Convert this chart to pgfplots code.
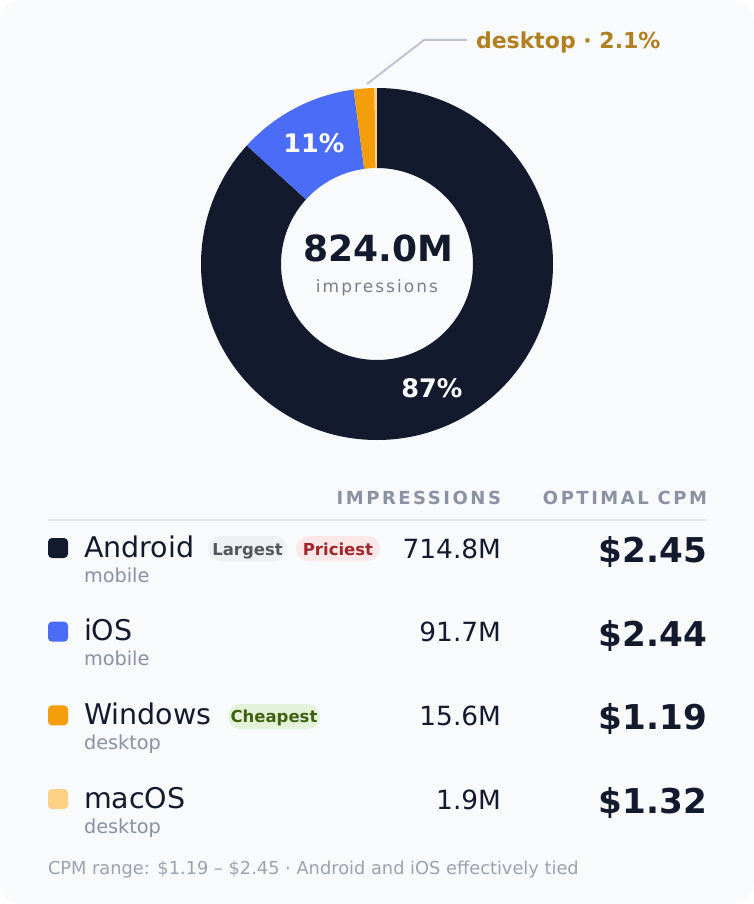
\documentclass[border=0pt]{standalone}
\usepackage{pgfplots}
\pgfplotsset{compat=1.18}
\usepackage{pgfplotstable}
\usepackage{fontspec}
\setmainfont{DejaVu Sans}
\newfontfamily\spaced[LetterSpace=14]{DejaVu Sans}
\newfontfamily\spacedlight[LetterSpace=12]{DejaVu Sans}

\definecolor{bg}{HTML}{F8FAFC}
\definecolor{ink}{HTML}{141A2E}
\definecolor{cAndroid}{HTML}{141A2E}
\definecolor{cIOS}{HTML}{4B6CF7}
\definecolor{cWindows}{HTML}{F59E0B}
\definecolor{cMacOS}{HTML}{FDD286}
\definecolor{muted}{HTML}{8A91A4}
\definecolor{hdr}{HTML}{8B92A3}
\definecolor{sub}{HTML}{7A7F8E}
\definecolor{foot}{HTML}{9CA2AF}
\definecolor{gold}{HTML}{B07F20}
\definecolor{leader}{HTML}{C0C3D1}
\definecolor{rule}{HTML}{E3E6EC}
\definecolor{pillgrey}{HTML}{EEF0F4}
\definecolor{pillgreytxt}{HTML}{55565C}
\definecolor{pillred}{HTML}{FCE8E8}
\definecolor{pillredtxt}{HTML}{A3262A}
\definecolor{pillgreen}{HTML}{E5F2DA}
\definecolor{pillgreentxt}{HTML}{3F6212}

\newcommand\fs[1]{\fontsize{#1}{#1}\selectfont}

% impressions (M) per platform
\pgfplotstableread{
platform impressions color
Android  714.8 cAndroid
iOS      91.7  cIOS
Windows  15.6  cWindows
macOS    1.9   cMacOS
}\shares

\begin{document}
\begin{tikzpicture}[x=1pt, y=1pt, t/.style={inner sep=0pt, outer sep=0pt}]

% card
\fill[white] (0,0) rectangle (754,-904);
\fill[bg, rounded corners=22pt] (0,0) rectangle (754,-904);

% total
\def\total{0}
\pgfplotsforeachungrouped \i in {0,...,3}{%
  \pgfplotstablegetelem{\i}{impressions}\of{\shares}%
  \pgfmathsetmacro{\total}{\total+\pgfplotsretval}%
}

\begin{axis}[
  at={(377pt,-264pt)}, anchor=center,
  width=352pt, height=352pt, scale only axis,
  xmin=-176, xmax=176, ymin=-176, ymax=176,
  hide axis, clip=false,
]
\def\cur{90}
\pgfplotsforeachungrouped \i in {0,...,3}{%
  \pgfplotstablegetelem{\i}{impressions}\of{\shares}%
  \let\val\pgfplotsretval
  \pgfmathsetmacro{\shr}{\val/\total}%
  \pgfmathsetmacro{\segspan}{360*\shr}%
  \pgfmathsetmacro{\nxt}{\cur-\segspan}%
  \pgfmathsetmacro{\midang}{\cur-\segspan/2}%
  \pgfmathtruncatemacro{\pct}{round(100*\shr)}%
  \pgfplotstablegetelem{\i}{color}\of{\shares}%
  \edef\col{\pgfplotsretval}%
  \edef\temp{\noexpand\fill[\col]
    ([shift={(\cur:176pt)}]axis cs:0,0) arc[start angle=\cur, end angle=\nxt, radius=176pt]
    -- ([shift={(\nxt:96pt)}]axis cs:0,0) arc[start angle=\nxt, end angle=\cur, radius=96pt] -- cycle;}%
  \temp
  \ifnum\pct>5
    \edef\temp{\noexpand\node[text=white, font=\noexpand\bfseries\noexpand\fs{25.5}, inner sep=0pt]
      at ([shift={(\midang:136pt)}]axis cs:0,0) {\pct\noexpand\%};}%
    \temp
  \fi
  \let\cur\nxt
}
\end{axis}

% centre text
\node[t, anchor=base, font=\bfseries\fs{36}, text=ink] at (378,-261) {824.0M};
\node[t, anchor=base, font=\spacedlight\fs{17}, text=sub] at (377,-292) {impressions};

% desktop callout
\draw[leader, line width=2pt] (367,-84) -- (424,-40) -- (467,-40);
\node[t, anchor=base west, font=\bfseries\fs{22}, text=gold] at (476,-49) {desktop · 2.1\%};

% table header
\node[t, anchor=base east, font=\spaced\bfseries\fs{18}, text=hdr] at (501,-504) {IMPRESSIONS};
\node[t, anchor=base east, font=\spaced\bfseries\fs{18}, text=hdr] at (707,-504) {OPTIMAL CPM};
\draw[rule, line width=2pt] (48,-520) -- (706,-520);

% rows: baseline, colour, name, group, impressions, cpm
\newcommand\row[6]{%
  \fill[#2, rounded corners=4pt] (48,{-#1+19}) rectangle (68,{-#1-1});
  \node[t, anchor=base west, font=\fs{28.5}, text=ink] at (84,-#1) {#3};
  \node[t, anchor=base west, font=\fs{19.3}, text=muted] at (84,{-#1-25}) {#4};
  \node[t, anchor=base east, font=\fs{26.4}, text=ink] at (501,{-#1-1}) {#5};
  \node[t, anchor=base east, font=\bfseries\fs{34.2}, text=ink] at (707,{-#1-5.5}) {#6};
}
\row{557}{cAndroid}{Android}{mobile}{714.8M}{\$2.45}
\row{640.7}{cIOS}{iOS}{mobile}{91.7M}{\$2.44}
\row{724.4}{cWindows}{Windows}{desktop}{15.6M}{\$1.19}
\row{808}{cMacOS}{macOS}{desktop}{1.9M}{\$1.32}

% badges
\fill[pillgrey, rounded corners=12.5pt] (208,-536) rectangle (287,-561);
\node[t, anchor=base, font=\bfseries\fs{16.5}, text=pillgreytxt] at (247.5,-555) {Largest};
\fill[pillred, rounded corners=12.5pt] (296,-536) rectangle (380,-561);
\node[t, anchor=base, font=\bfseries\fs{16.5}, text=pillredtxt] at (338,-555) {Priciest};
\fill[pillgreen, rounded corners=12.5pt] (228,-704) rectangle (320,-729);
\node[t, anchor=base, font=\bfseries\fs{16.5}, text=pillgreentxt] at (274,-722.5) {Cheapest};

% footer
\node[t, anchor=base west, font=\fs{17.8}, text=foot] at (48,-874) {CPM range: \$1.19 – \$2.45 · Android and iOS effectively tied};

\end{tikzpicture}
\end{document}
